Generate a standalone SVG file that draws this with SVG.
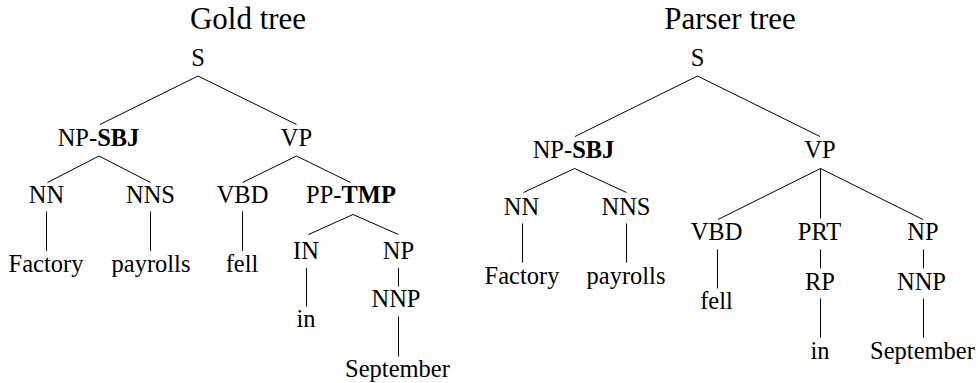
<svg xmlns="http://www.w3.org/2000/svg" width="978" height="383" viewBox="0 0 978 383">
  <style>
    text { font-family: "Liberation Serif", "Times New Roman", serif; fill: #000; text-anchor: middle; }
    .lbl { font-size: 24.5px; }
    .title { font-size: 31px; }
    .b { font-weight: bold; }
    .edges line { stroke: #000; stroke-width: 1; }
  </style>
  <rect width="978" height="383" fill="#fff"/>

  <!-- Titles -->
  <text class="title" x="248" y="29">Gold tree</text>
  <text class="title" x="730" y="29">Parser tree</text>

  <!-- Left tree edges -->
  <g id="gold-edges" class="edges">
    <line x1="198" y1="76" x2="100" y2="124.5"/>
    <line x1="198" y1="76" x2="296.5" y2="124.5"/>
    <line x1="99" y1="156" x2="47.5" y2="182.5"/>
    <line x1="99" y1="156" x2="150.5" y2="182.5"/>
    <line x1="296.5" y1="156" x2="242.5" y2="182.5"/>
    <line x1="296.5" y1="156" x2="350.5" y2="182.5"/>
    <line x1="46.5" y1="211.5" x2="46.5" y2="251"/>
    <line x1="150.5" y1="211.5" x2="150.5" y2="251"/>
    <line x1="242.5" y1="211.5" x2="242.5" y2="251"/>
    <line x1="353" y1="214.5" x2="308.5" y2="234.5"/>
    <line x1="353" y1="214.5" x2="398.5" y2="234.5"/>
    <line x1="306.5" y1="268" x2="306.5" y2="306.5"/>
    <line x1="398.5" y1="268" x2="398.5" y2="286.5"/>
    <line x1="398.5" y1="316.5" x2="398.5" y2="356.5"/>
  </g>

  <!-- Left tree nodes -->
  <g id="g-S"><text class="lbl" x="198" y="66">S</text></g>
  <g id="g-NP-SBJ"><text class="lbl" x="98.5" y="146">NP-<tspan class="b">SBJ</tspan></text></g>
  <g id="g-VP"><text class="lbl" x="296.5" y="146">VP</text></g>
  <g id="g-NN"><text class="lbl" x="46.5" y="203">NN</text></g>
  <g id="g-NNS"><text class="lbl" x="150.5" y="203">NNS</text></g>
  <g id="g-VBD"><text class="lbl" x="242.5" y="203">VBD</text></g>
  <g id="g-PP-TMP"><text class="lbl" x="351" y="203">PP-<tspan class="b">TMP</tspan></text></g>
  <g id="g-Factory"><text class="lbl" x="46" y="271.5">Factory</text></g>
  <g id="g-payrolls"><text class="lbl" x="151" y="271.5">payrolls</text></g>
  <g id="g-fell"><text class="lbl" x="242" y="271.5">fell</text></g>
  <g id="g-IN"><text class="lbl" x="306" y="258.5">IN</text></g>
  <g id="g-NP"><text class="lbl" x="398.5" y="258.5">NP</text></g>
  <g id="g-in"><text class="lbl" x="306" y="326.5">in</text></g>
  <g id="g-NNP"><text class="lbl" x="396" y="306.5">NNP</text></g>
  <g id="g-September"><text class="lbl" x="397.5" y="376.5">September</text></g>

  <!-- Right tree edges -->
  <g id="parser-edges" class="edges">
    <line x1="697.5" y1="76" x2="575" y2="136.5"/>
    <line x1="697.5" y1="76" x2="820" y2="136.5"/>
    <line x1="574.5" y1="168.5" x2="523.5" y2="192.5"/>
    <line x1="574.5" y1="168.5" x2="626.5" y2="192.5"/>
    <line x1="820.5" y1="168.5" x2="718" y2="219.5"/>
    <line x1="820.5" y1="168.5" x2="820.5" y2="218.5"/>
    <line x1="820.5" y1="168.5" x2="923" y2="219.5"/>
    <line x1="522.5" y1="223.5" x2="522.5" y2="262.5"/>
    <line x1="626.5" y1="223.5" x2="626.5" y2="262.5"/>
    <line x1="717.5" y1="249.5" x2="717.5" y2="288.5"/>
    <line x1="820.5" y1="249.5" x2="820.5" y2="268.5"/>
    <line x1="923.5" y1="249.5" x2="923.5" y2="268.5"/>
    <line x1="820.5" y1="298.5" x2="820.5" y2="337.5"/>
    <line x1="923.5" y1="298.5" x2="923.5" y2="337.5"/>
  </g>

  <!-- Right tree nodes -->
  <g id="p-S"><text class="lbl" x="697.5" y="66">S</text></g>
  <g id="p-NP-SBJ"><text class="lbl" x="573.5" y="157.5">NP-<tspan class="b">SBJ</tspan></text></g>
  <g id="p-VP"><text class="lbl" x="820" y="157.5">VP</text></g>
  <g id="p-NN"><text class="lbl" x="521.5" y="215">NN</text></g>
  <g id="p-NNS"><text class="lbl" x="626" y="215">NNS</text></g>
  <g id="p-Factory"><text class="lbl" x="522" y="283.5">Factory</text></g>
  <g id="p-payrolls"><text class="lbl" x="626" y="283.5">payrolls</text></g>
  <g id="p-VBD"><text class="lbl" x="716.5" y="240">VBD</text></g>
  <g id="p-PRT"><text class="lbl" x="819.5" y="240">PRT</text></g>
  <g id="p-NP"><text class="lbl" x="923" y="240">NP</text></g>
  <g id="p-fell"><text class="lbl" x="716.5" y="308.5">fell</text></g>
  <g id="p-RP"><text class="lbl" x="820" y="290">RP</text></g>
  <g id="p-NNP"><text class="lbl" x="921.5" y="290">NNP</text></g>
  <g id="p-in"><text class="lbl" x="820" y="358.5">in</text></g>
  <g id="p-September"><text class="lbl" x="922.5" y="358.5">September</text></g>
</svg>
